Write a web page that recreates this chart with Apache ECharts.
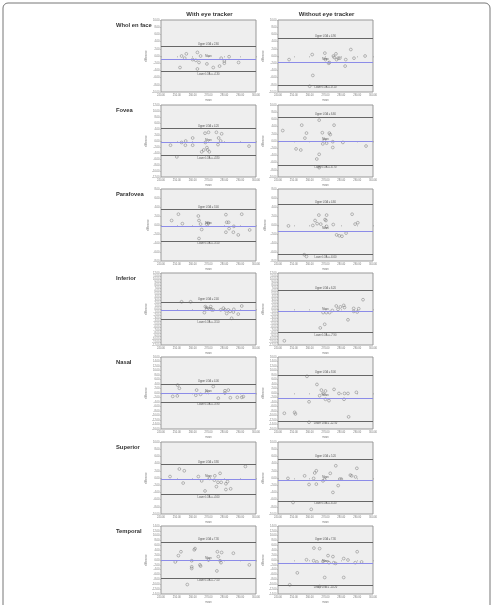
<!DOCTYPE html>
<html>
<head>
<meta charset="utf-8">
<script src="https://cdn.jsdelivr.net/npm/echarts@6/dist/echarts.min.js"></script>
<style>
  html, body { margin: 0; padding: 0; background: #fff; }
  #chart { width: 494px; height: 605px; }
</style>
</head>
<body>
<div id="chart"></div>
<script>
// row labels and column titles
const rowNames = ['Whol en face', 'Fovea', 'Parafovea', 'Inferior', 'Nasal', 'Superior', 'Temporal']
const colTitles = ['With eye tracker', 'Without eye tracker']

// y axis half-range and step per panel [with, without]
const yMax = [[10, 10], [12, 10], [8, 8], [12, 12], [16, 16], [10, 10], [14, 14]]
const yStep = [[2, 2], [2, 2], [2, 2], [1, 1], [2, 2], [2, 2], [2, 2]]
const xTicks = [240, 300, 10]

// limits of agreement: [upper, mean, lower]
const limitsWith = [
  [2.6, -0.9, -4.3],
  [4.2, -0.5, -4.8],
  [3.4, -0.2, -3.5],
  [2.4, -0.55, -3.5],
  [4.0, -0.2, -3.9],
  [3.8, -0.3, -4.6],
  [7.3, -0.3, -7.5]
]
const limitsWithout = [
  [4.9, -1.7, -8.1],
  [6.6, -0.2, -6.7],
  [4.6, -1.3, -6.6],
  [6.2, -0.9, -7.9],
  [8.0, -2.3, -12.5],
  [5.2, -0.6, -6.4],
  [7.3, -1.4, -10.2]
]

// points [mean, difference]
const wholWith = [[252,-3.2],[253,0],[255,-0.6],[256,0.6],[260,-1],[262,-1.2],[263,1],[264,-1.8],[265,0],[263,-3.6],[269,-2.2],[273,-3.2],[277,-2.8],[278,-0.6],[280,-1.4],[280,-2],[283,-0.2],[289,-1.8]]
const wholWithout = [[247,-1],[261.6,0.4],[262,-5.4],[260,-8.4],[269.6,0.8],[270,-1],[272,-2],[272.4,-1.8],[275,0],[275.5,-0.4],[276.6,0.6],[277,-1],[278,-0.6],[279,-0.6],[282.4,-2.8],[282.8,-1],[286,1.8],[288,-0.6],[295,0]]
const foveaWith = [[246,-1.4],[250,-5.3],[253,-0.5],[255.4,-1.4],[255.6,0],[260,-1.4],[260,1.0],[267.8,2.6],[268,-0.5],[270,2.9],[267,-3],[265.7,-3.6],[269,-2.2],[269.5,-3],[270.5,-3.6],[275,2.9],[276,-1.2],[276.4,1.0],[277.7,0],[278.3,2.4],[295.6,-1.7]]
const foveaWithout = [[243,2.9],[255,4.4],[258,2.2],[257,0.8],[251.4,-2.2],[254.4,-2.5],[266,5.8],[275.4,4.4],[268,2.3],[272.4,2.2],[273,1.8],[269.3,0.2],[268.3,-0.8],[270.7,-0.6],[274.6,-0.2],[274.6,-1.8],[266,-3.7],[264.5,-5],[266,-7.4],[281,-0.4],[295.6,-1.4]]
const parafoveaWith = [[246.7,1.0],[251,2.4],[253.5,0.3],[263.6,2.0],[264,1.0],[265,0.2],[265.7,-1.0],[264,-3.0],[268.8,0.2],[270,0.4],[281,2.3],[281.5,0.6],[282.7,0.6],[283,-0.8],[286,-0.3],[281,-1.6],[285.7,-1.6],[288.8,-2.2],[291,2.4],[296,-1.1]]
const parafoveaWithout = [[246.6,-0.2],[256.6,-6.6],[258,-7.0],[262,-0.1],[263.4,1.0],[265.8,2.2],[264.7,0.3],[267,0.2],[269.7,1.2],[270.3,1.0],[270.7,2.2],[270.7,-0.3],[274.9,0.1],[277,-2.2],[278.7,-2.4],[280.4,-2.5],[283,-1.8],[286.8,2.4],[288.7,0.2],[290.4,0.5]]
const inferiorWith = [[253,2.4],[258.7,2.4],[268,0.8],[267.4,-1.2],[268.8,-0.1],[271.4,0.8],[272,-0.3],[273,-0.3],[277.7,-0.3],[279.4,0.3],[280.4,-0.3],[281.5,-1.5],[282.5,-0.3],[283.6,-0.8],[284.6,-3.1],[285.7,-1],[286,-0.1],[288.8,-1.7],[291,1]]
const inferiorWithout = [[244,-10.6],[266.7,-6.3],[269.5,-5.1],[268.5,-1.2],[270.5,-1.2],[272.6,-1.2],[274.3,-0.5],[276.8,1],[277.9,-0.1],[279.4,0.7],[281.5,1.2],[282,0.5],[284.2,-3.6],[287.8,0.2],[287.8,-0.8],[290,-1],[291,0.1],[293.7,3.1]]
const nasalWith = [[250.5,3.5],[251.6,2.1],[247.4,-1.5],[250.3,-1.3],[262.5,1.3],[262,-1],[265,-0.6],[268.8,0.3],[273,2.9],[276.2,-2.3],[280.4,1],[280.4,0],[282.5,1.3],[283.8,-2.1],[288.2,-1.9],[291,-1.9],[292,-1.6]]
const nasalWithout = [[244,-9],[250.5,-8.6],[251,-9.3],[258.3,7.4],[259.6,-3.9],[259.6,-13],[264.6,3.8],[266.3,-1.2],[267.4,1.3],[268.4,-0.2],[270,0.9],[270,-2.8],[272.2,-3.4],[275.4,1.6],[278.5,-0.2],[282,-0.2],[281.7,-2.8],[284.2,-0.2],[284.6,-10.6],[289.5,0.3]]
const superiorWith = [[245.7,0.4],[251.6,2.5],[254.7,2],[254,-1.4],[263.6,0.4],[265.7,-0.8],[267.8,-3.6],[270.5,-0.1],[274,0.6],[273.7,-0.6],[275,-2.4],[276,-1.2],[277.3,1.3],[278,-1.2],[281,-1.6],[282,-1],[281,-3.2],[284,-3],[293.3,3.2]]
const superiorWithout = [[246.3,-0.1],[249.5,-6.8],[256.8,0.6],[259.6,-1.8],[261,-8.7],[262.5,-0.1],[263.2,1.4],[264.2,2],[264.2,-1.7],[268.4,-0.8],[269.5,-0.4],[273,1.3],[274.7,-4],[276.5,3.4],[278,-2.1],[279,-0.3],[280,-0.3],[285.7,0.8],[286.5,0.6],[289,0.3],[289.8,2.7]]
const temporalWith = [[249,-0.8],[251,1.8],[252.6,3.4],[261,4.2],[261.5,4.7],[256.6,-10.1],[259.4,-0.3],[259.4,-2.8],[259.4,-3.5],[264.6,-2],[265,-2.5],[270,0],[275.6,3.4],[276.2,1.4],[275.3,-4.5],[277.3,-0.3],[277.9,-1.1],[278.3,3.1],[285.7,2.8],[295.8,-2]]
const temporalWithout = [[247.4,-10.2],[252.2,-5.3],[258,0.1],[262.7,4.9],[262.5,-0.3],[264.6,-0.8],[266.3,4.7],[268.4,-0.6],[269.5,-7.2],[271.6,1.8],[272.2,-1.1],[274.7,1.4],[275.2,-1.1],[276.4,-1.4],[281.5,0.6],[281.5,-7.2],[284.2,0],[290,3.4],[288.8,-1.1],[292.8,-0.8],[266.3,-10.9]]

const pointsWith = [wholWith, foveaWith, parafoveaWith, inferiorWith, nasalWith, superiorWith, temporalWith]
const pointsWithout = [wholWithout, foveaWithout, parafoveaWithout, inferiorWithout, nasalWithout, superiorWithout, temporalWithout]

const rowTops = [20, 105, 189, 273, 357, 442, 526]
const colLefts = [161, 278]
const boxW = 95
const boxH = 72

const chart = echarts.init(document.getElementById('chart'))

const grids = []
const xAxes = []
const yAxes = []
const series = []
const graphics = []

const tinyFont = { fontSize: 2.6, color: '#777', fontFamily: 'Arial' }

// outer frame
graphics.push({
  type: 'rect',
  shape: { x: 3, y: 3, width: 487, height: 640, r: 5 },
  style: { fill: 'none', stroke: '#777', lineWidth: 1 }
})

colTitles.forEach((t, c) => {
  graphics.push({
    type: 'text',
    x: colLefts[c] + boxW / 2 + 1,
    y: 11,
    style: { text: t, fill: '#333', font: 'bold 6px Arial', textAlign: 'center' }
  })
})

rowNames.forEach((name, r) => {
  graphics.push({
    type: 'text',
    x: 116,
    y: rowTops[r] + 2,
    style: { text: name, fill: '#333', font: 'bold 5.8px Arial', textAlign: 'left' }
  })

  for (let c = 0; c < 2; c++) {
    const idx = grids.length
    const lims = c === 0 ? limitsWith[r] : limitsWithout[r]
    const pts = c === 0 ? pointsWith[r] : pointsWithout[r]

    grids.push({
      left: colLefts[c],
      top: rowTops[r],
      width: boxW,
      height: boxH,
      show: true,
      backgroundColor: '#eeeeee',
      borderColor: '#999',
      borderWidth: 1
    })

    xAxes.push({
      type: 'value',
      gridIndex: idx,
      min: xTicks[0],
      max: xTicks[1],
      interval: xTicks[2],
      name: 'mean',
      nameLocation: 'middle',
      nameGap: 7,
      nameTextStyle: tinyFont,
      axisLine: { show: false },
      axisTick: { show: true, length: 1.5, lineStyle: { color: '#999', width: 0.5 } },
      axisLabel: { ...tinyFont, margin: 2, formatter: v => v.toFixed(2) },
      splitLine: { show: false }
    })

    yAxes.push({
      type: 'value',
      gridIndex: idx,
      min: -yMax[r][c],
      max: yMax[r][c],
      interval: yStep[r][c],
      name: 'difference',
      nameLocation: 'middle',
      nameGap: 9,
      nameRotate: 90,
      nameTextStyle: tinyFont,
      axisLine: { show: false },
      axisTick: { show: true, length: 1.2, lineStyle: { color: '#999', width: 0.5 } },
      axisLabel: { ...tinyFont, margin: 1.5, formatter: v => v.toFixed(2) },
      splitLine: { show: false }
    })

    series.push({
      type: 'scatter',
      xAxisIndex: idx,
      yAxisIndex: idx,
      data: pts,
      symbol: 'circle',
      symbolSize: 2.8,
      itemStyle: { color: 'rgba(0,0,0,0)', borderColor: '#777', borderWidth: 0.6 },
      silent: true,
      markLine: {
        silent: true,
        symbol: 'none',
        data: [
          {
            yAxis: lims[0],
            lineStyle: { color: '#666', width: 1, type: 'solid' },
            label: { show: true, position: 'middle', distance: 1, ...tinyFont, color: '#555',
              formatter: 'Upper LOA = ' + lims[0].toFixed(2) }
          },
          {
            yAxis: lims[1],
            lineStyle: { color: '#8c8ce8', width: 1, type: 'solid' },
            label: { show: true, position: 'middle', distance: 1, ...tinyFont, color: '#555',
              formatter: 'Mean' }
          },
          {
            yAxis: lims[2],
            lineStyle: { color: '#666', width: 1, type: 'solid' },
            label: { show: true, position: 'insideMiddleBottom', distance: 1, ...tinyFont, color: '#555',
              formatter: 'Lower LOA = ' + lims[2].toFixed(2) }
          }
        ]
      }
    })
  }
})

chart.setOption({
  animation: false,
  backgroundColor: '#fff',
  grid: grids,
  xAxis: xAxes,
  yAxis: yAxes,
  series: series,
  graphic: graphics
})
</script>
</body>
</html>
